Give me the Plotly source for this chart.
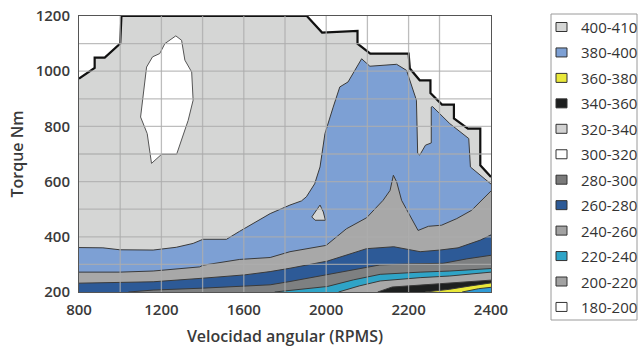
import numpy as np
import plotly.graph_objects as go

# Engine speed categories (the x axis is categorical, evenly spaced)
RPM_CATS = [800, 1000, 1200, 1400, 1600, 1800, 2000, 2100, 2200, 2300, 2400]
X_TICKS = [800, 1200, 1600, 2000, 2200, 2400]
Y_TICKS = [200, 400, 600, 800, 1000, 1200]
X_GRID = [1000, 1200, 1400, 1600, 1800, 2000, 2100, 2200, 2275]
Y_GRID = [300, 400, 500, 600, 700, 800, 900, 1000, 1100]

LEGEND_LABELS = ["400-410", "380-400", "360-380", "340-360", "320-340", "300-320",
                 "280-300", "260-280", "240-260", "220-240", "200-220", "180-200"]

# Full-load envelope (max torque curve)
env_rpm = [800, 876, 876, 925, 1000, 1006, 1906, 1980, 2076, 2076, 2107, 2200, 2203,
           2227, 2253, 2253, 2281, 2310, 2310, 2344, 2374, 2374, 2400]
env_nm = [973, 1012, 1049, 1049, 1100, 1200, 1200, 1140, 1146, 1100, 1064, 1064, 1010,
          967, 967, 921, 879, 879, 829, 792, 792, 659, 617]

# Island inside the upper region
island_rpm = [1270, 1298, 1314, 1347, 1354, 1330, 1274, 1201, 1152, 1131, 1099, 1108,
              1115, 1128, 1157, 1192, 1217, 1270]
island_nm = [1128, 1112, 1040, 997, 895, 822, 699, 699, 666, 774, 834, 895,
             941, 1015, 1052, 1064, 1100, 1128]

# 380-400 zone upper boundary
b380_rpm = [800, 916, 998, 1160, 1272, 1354, 1402, 1516, 1580, 1612, 1728, 1824, 1880,
            1904, 1944, 1970, 1994, 2017, 2033, 2053, 2086, 2106, 2138, 2171, 2195,
            2212, 2219, 2222, 2227, 2241, 2255, 2255, 2258, 2300, 2346, 2350, 2400]
b380_nm = [361, 360, 353, 352, 362, 376, 391, 391, 420, 434, 484, 515, 530,
           545, 592, 653, 774, 870, 943, 961, 1045, 1018, 1021, 1025, 1003,
           931, 895, 702, 696, 732, 740, 870, 872, 810, 756, 653, 591]

# Small pocket inside the 380-400 zone
pocket_rpm = [1970, 1986, 1996, 1946, 1930, 1970]
pocket_nm = [515, 490, 460, 460, 472, 515]

# Lower zones, upper boundaries
g240_rpm = [800, 998, 1160, 1386, 1402, 1580, 1728, 1824, 2000, 2049, 2098, 2138, 2155,
            2163, 2171, 2183, 2223, 2248, 2280, 2317, 2353, 2400]
g240_nm = [272, 272, 276, 291, 297, 318, 325, 346, 369, 429, 469, 532, 568,
           623, 599, 532, 423, 438, 442, 466, 496, 566]

d260_rpm = [800, 1160, 1402, 1604, 1728, 1824, 2003, 2060, 2098, 2164, 2228, 2276,
            2320, 2374, 2400]
d260_nm = [232, 237, 250, 262, 274, 286, 312, 338, 357, 364, 346, 352, 360, 388, 407]

d280_rpm = [1040, 1160, 1402, 1604, 1728, 1824, 2003, 2098, 2130, 2203, 2284, 2341, 2400]
d280_nm = [200, 207, 214, 220, 226, 238, 262, 288, 298, 302, 304, 320, 333]

c220_rpm = [1750, 1850, 2003, 2066, 2131, 2228, 2300, 2400]
c220_nm = [200, 207, 220, 244, 264, 272, 276, 285]

g200_rpm = [2030, 2080, 2131, 2228, 2300, 2400]
g200_nm = [200, 222, 240, 252, 258, 272]

k340_rpm = [2125, 2160, 2228, 2293, 2350, 2400]
k340_nm = [200, 218, 225, 231, 236, 243]

y360_rpm = [2240, 2300, 2350, 2380, 2400]
y360_nm = [200, 210, 222, 230, 233]

c_low_rpm = [2330, 2370, 2400]
c_low_nm = [200, 212, 217]

LIGHT = "#d5d6d5"
BLUE = "#7da0d4"
GRAY = "#a8a8a8"
DBLUE = "#2d5a97"
DGRAY = "#7e8081"
CYAN = "#2fa4c7"
BLACK = "#1d1f1f"
YELLOW = "#e9e83a"
LBLUE = "#2f9bd6"
EDGE = "#3a3a3a"

LEGEND_COLORS = [LIGHT, BLUE, YELLOW, BLACK, "#d2d2d2", "#ffffff", "#7a7a7a", DBLUE,
                 "#a2a2a2", CYAN, "#a2a2a2", "#ffffff"]


def pos(rpm):
    return np.interp(rpm, RPM_CATS, np.arange(len(RPM_CATS)))


def band(rpm, nm, color, lc=EDGE, lw=1.0):
    return go.Scatter(x=pos(rpm), y=nm, mode="lines", fill="tozeroy", fillcolor=color,
                      line=dict(color=lc, width=lw), hoverinfo="skip", showlegend=False)


def patch(rpm, nm, color, lc="#555555", lw=1.0):
    return go.Scatter(x=pos(rpm), y=nm, mode="lines", fill="toself", fillcolor=color,
                      line=dict(color=lc, width=lw), hoverinfo="skip", showlegend=False)


fig = go.Figure()
fig.add_trace(band(env_rpm, env_nm, LIGHT, lc="#111111", lw=2.2))
fig.add_trace(patch(island_rpm, island_nm, "#ffffff"))
fig.add_trace(band(b380_rpm, b380_nm, BLUE))
fig.add_trace(patch(pocket_rpm, pocket_nm, LIGHT, lc=EDGE))
fig.add_trace(band(g240_rpm, g240_nm, GRAY))
fig.add_trace(band(d260_rpm, d260_nm, DBLUE))
fig.add_trace(band(d280_rpm, d280_nm, DGRAY))
fig.add_trace(band(c220_rpm, c220_nm, CYAN))
fig.add_trace(band(g200_rpm, g200_nm, GRAY))
fig.add_trace(band(k340_rpm, k340_nm, BLACK))
fig.add_trace(band(y360_rpm, y360_nm, YELLOW))
fig.add_trace(band(c_low_rpm, c_low_nm, LBLUE))

# Plot area in pixels
W, H = 639, 349
ML, MR, MT, MB = 79, 148, 16, 57
PL, PR, PT, PB = ML, W - MR, MT, H - MB


def px(x):
    return (x - PL) / (PR - PL)


def py(y):
    return (PB - y) / (PB - PT)


GRID = "rgba(172,172,172,0.8)"
shapes = []
for r in X_GRID:
    shapes.append(dict(type="line", xref="x", yref="y", x0=float(pos(r)), x1=float(pos(r)),
                       y0=200, y1=1200, line=dict(color=GRID, width=1.3), layer="above"))
for t in Y_GRID:
    shapes.append(dict(type="line", xref="x", yref="y", x0=0, x1=10, y0=t, y1=t,
                       line=dict(color=GRID, width=1.3), layer="above"))

# Legend panel
shapes.append(dict(type="rect", xref="paper", yref="paper", x0=px(551), x1=px(637),
                   y0=py(320), y1=py(14), line=dict(color="#9a9a9a", width=1),
                   fillcolor="rgba(255,255,255,0)", layer="above"))
annotations = []
for i, (lab, col) in enumerate(zip(LEGEND_LABELS, LEGEND_COLORS)):
    yc = 27 + i * 25.45
    shapes.append(dict(type="rect", xref="paper", yref="paper", x0=px(556), x1=px(567),
                       y0=py(yc + 4.5), y1=py(yc - 4.5), fillcolor=col,
                       line=dict(color="#333333", width=1), layer="above"))
    annotations.append(dict(text=lab, xref="paper", yref="paper", x=px(579), y=py(yc),
                            xanchor="left", yanchor="middle", showarrow=False,
                            font=dict(family="Open Sans", size=15, color="#333333")))

tickfont = dict(family="Open Sans", size=15, color="#3a3a3a", weight=600)
titlefont = dict(family="Open Sans", size=16, color="#3a3a3a", weight=600)

fig.update_layout(
    width=W, height=H, margin=dict(l=ML, r=MR, t=MT, b=MB, pad=0),
    paper_bgcolor="white", plot_bgcolor="white",
    shapes=shapes, annotations=annotations,
    xaxis=dict(range=[0, 10], tickvals=[float(v) for v in pos(X_TICKS)],
               ticktext=[str(v) for v in X_TICKS], showgrid=False, zeroline=False,
               showline=True, mirror=True, linecolor="#555555", linewidth=1,
               ticks="outside", ticklen=4, tickcolor="rgba(0,0,0,0)",
               tickfont=tickfont, automargin=False,
               title=dict(text="Velocidad angular (RPMS)", font=titlefont, standoff=12)),
    yaxis=dict(range=[200, 1200], tickvals=Y_TICKS, showgrid=False, zeroline=False,
               showline=True, mirror=True, linecolor="#555555", linewidth=1,
               ticks="outside", ticklen=5, tickcolor="rgba(0,0,0,0)",
               tickfont=tickfont, automargin=False,
               title=dict(text="Torque Nm", font=titlefont, standoff=8)),
)

fig.write_html("out.html")
